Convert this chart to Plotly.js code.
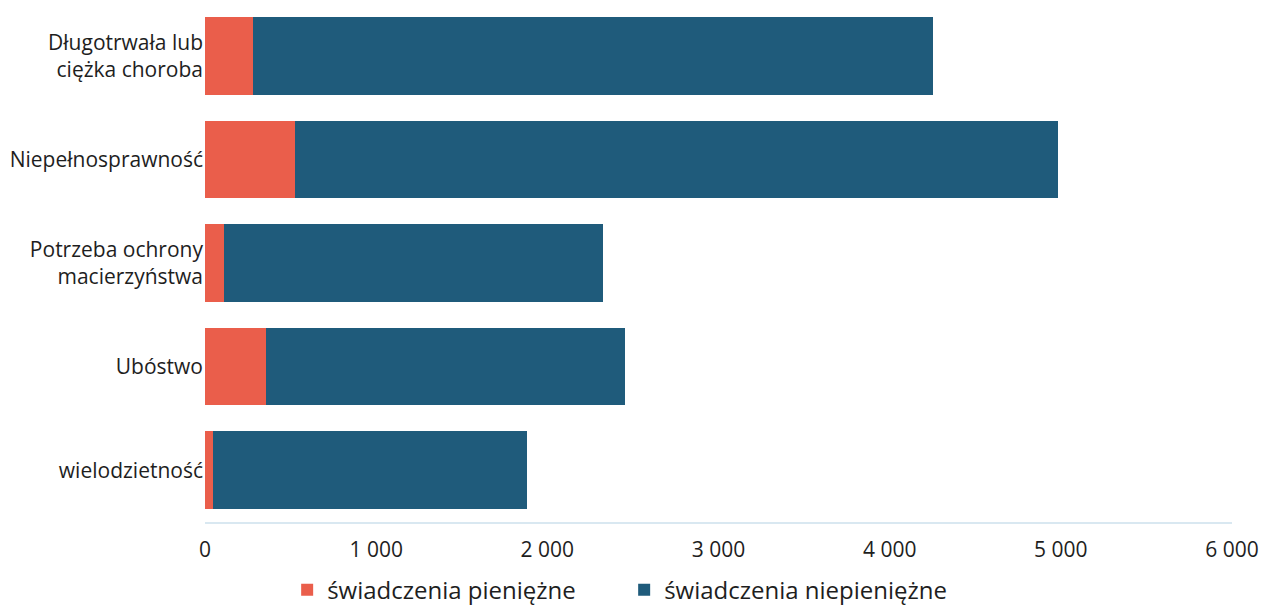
<!DOCTYPE html>
<html>
<head>
<meta charset="utf-8">
<script src="https://cdn.plot.ly/plotly-3.0.1.min.js"></script>
<style>html,body{margin:0;padding:0;background:#fff;}#chart{width:1263px;height:605px;}</style>
</head>
<body>
<div id="chart"></div>
<script>
const categories = ["wielodzietność", "Ubóstwo", "Potrzeba ochrony<br>macierzyństwa", "Niepełnosprawność", "Długotrwała lub<br>ciężka choroba"];
const pieniezne = [47, 356, 111, 526, 280];
const niepieniezne = [1834, 2097, 2214, 4457, 3972];
const seriesNames = ["świadczenia pieniężne", "świadczenia niepieniężne"];
const tickVals = [0, 1000, 2000, 3000, 4000, 5000, 6000];

const data = [
  {type: 'bar', orientation: 'h', y: categories, x: pieniezne, name: seriesNames[0],
   marker: {color: '#ea5e4b', line: {width: 0}}, hoverinfo: 'x+name'},
  {type: 'bar', orientation: 'h', y: categories, x: niepieniezne, name: seriesNames[1],
   marker: {color: '#1f5b7b', line: {width: 0}}, hoverinfo: 'x+name'}
];
const layout = {
  width: 1263, height: 605,
  barmode: 'stack', bargap: 0.25,
  separators: ', ',
  margin: {l: 205, r: 31, t: 4, b: 83, autoexpand: false},
  paper_bgcolor: '#ffffff', plot_bgcolor: '#ffffff',
  font: {family: '"Open Sans", sans-serif', size: 21, color: '#1e1e1e'},
  xaxis: {range: [0, 6000], tickvals: tickVals, tickformat: ',d', showgrid: false, zeroline: false,
          showline: true, linecolor: '#d9e8f1', linewidth: 2, ticks: '', ticklabelstandoff: 8,
          tickfont: {size: 21, color: '#1e1e1e'}},
  yaxis: {showgrid: false, zeroline: false, showline: false, ticks: '', ticklabelstandoff: 1,
          automargin: false, tickfont: {size: 21, color: '#1e1e1e'}},
  showlegend: true,
  legend: {orientation: 'h', x: 0.08, xanchor: 'left', y: -0.088, yanchor: 'top',
           entrywidth: 292, entrywidthmode: 'pixels',
           font: {size: 24, color: '#1e1e1e'}, traceorder: 'normal', itemsizing: 'constant'}
};
Plotly.newPlot('chart', data, layout, {displayModeBar: false, staticPlot: true});
</script>
</body>
</html>
